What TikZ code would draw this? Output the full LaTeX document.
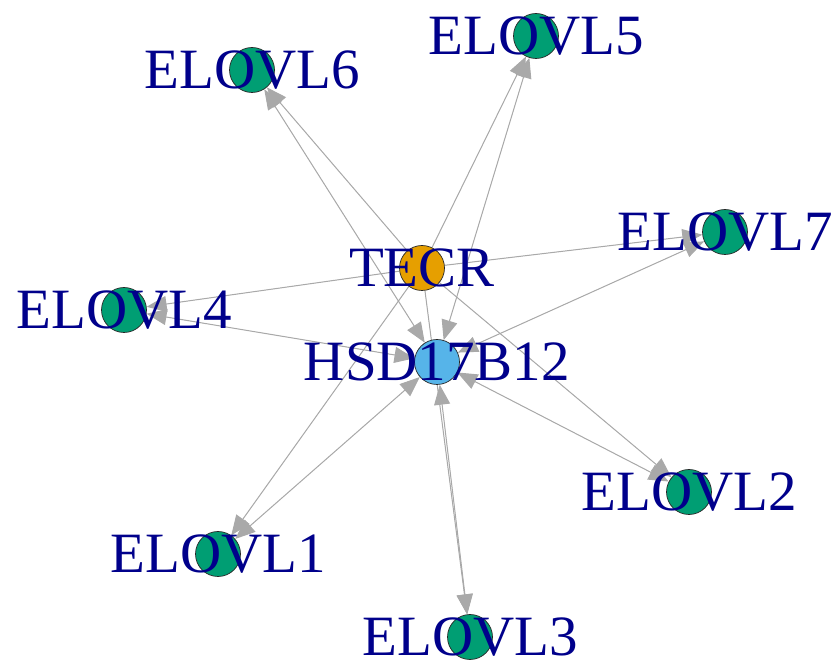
\documentclass[tikz,border=0pt]{standalone}
\usepackage{fontspec}
\setmainfont{Liberation Serif}
\usepackage{xcolor}
\usetikzlibrary{arrows.meta,backgrounds}
\definecolor{vgreen}{HTML}{009E73}
\definecolor{vorange}{HTML}{E69F00}
\definecolor{vblue}{HTML}{56B4E9}
\definecolor{lblblue}{HTML}{00008B}
\definecolor{edgegray}{HTML}{A9A9A9}
\begin{document}
\begin{tikzpicture}[x=1pt,y=1pt,>={Triangle[length=20pt,width=16pt]},
  vtx/.style={circle,draw=black!85,line width=0.7pt,minimum size=45pt,inner sep=0pt},
  lbl/.style={text=lblblue,font=\fontsize{57}{60}\selectfont,inner sep=0pt},
  edge/.style={draw=edgegray,fill=edgegray,line width=1pt}]
\useasboundingbox (0,0) rectangle (838,664);
\node[vtx,fill=vorange] (tecr) at (422,396) {};
\node[vtx,fill=vblue] (hsd) at (437,302) {};
\node[vtx,fill=vgreen] (e6) at (252,594) {};
\node[vtx,fill=vgreen] (e5) at (536,628) {};
\node[vtx,fill=vgreen] (e7) at (725,432) {};
\node[vtx,fill=vgreen] (e4) at (124,354) {};
\node[vtx,fill=vgreen] (e2) at (689,172) {};
\node[vtx,fill=vgreen] (e1) at (218,110) {};
\node[vtx,fill=vgreen] (e3) at (470,27) {};
% edges behind the vertices
\begin{scope}[on background layer]
\draw[edge,->] (tecr) -- (e6);
\draw[edge,->] (tecr) -- (e5);
\draw[edge,->] (tecr) -- (e7);
\draw[edge,->] (tecr) -- (e4);
\draw[edge,->] (tecr) -- (e2);
\draw[edge,->] (tecr) -- (e1);
\draw[edge,->] (tecr) -- (e3);
\draw[edge,<->] (hsd) -- (e6);
\draw[edge,<->] (hsd) -- (e5);
\draw[edge,<->] (hsd) -- (e7);
\draw[edge,<->] (hsd) -- (e4);
\draw[edge,<->] (hsd) -- (e2);
\draw[edge,<->] (hsd) -- (e1);
\draw[edge,<->] (hsd) -- (e3);
\end{scope}
% labels on top
\node[lbl] (tecr-l) at (tecr) {TECR};
\node[lbl] (hsd-l) at (hsd) {HSD17B12};
\node[lbl] (e6-l) at (e6) {ELOVL6};
\node[lbl] (e5-l) at (e5) {ELOVL5};
\node[lbl] (e7-l) at (e7) {ELOVL7};
\node[lbl] (e4-l) at (e4) {ELOVL4};
\node[lbl] (e2-l) at (e2) {ELOVL2};
\node[lbl] (e1-l) at (e1) {ELOVL1};
\node[lbl] (e3-l) at (e3) {ELOVL3};
\end{tikzpicture}
\end{document}
